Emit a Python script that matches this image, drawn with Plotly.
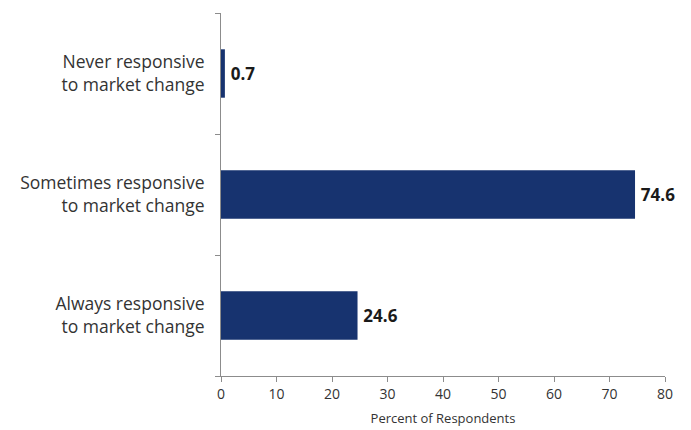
import plotly.graph_objects as go

# Share of respondents by responsiveness to market change
categories = [
    "Always responsive<br>to market change",
    "Sometimes responsive<br>to market change",
    "Never responsive<br>to market change",
]
percent = [24.6, 74.6, 0.7]
value_labels = ["24.6", "74.6", "0.7"]
x_ticks = [0, 10, 20, 30, 40, 50, 60, 70, 80]

bar_color = "#17336f"
axis_color = "#8c8c8c"
font_family = "'Open Sans', Lato, sans-serif"

fig = go.Figure(
    go.Bar(
        y=categories,
        x=percent,
        orientation="h",
        width=0.4,
        marker=dict(color=bar_color, line=dict(width=0)),
        text=value_labels,
        texttemplate="\u2009%{text}",
        textposition="outside",
        textfont=dict(family=font_family, size=17, color="#1a1a1a", weight="bold"),
        cliponaxis=False,
        hoverinfo="skip",
    )
)

fig.update_layout(
    width=691,
    height=430,
    margin=dict(l=221, r=26, t=13, b=54),
    paper_bgcolor="white",
    plot_bgcolor="white",
    showlegend=False,
    font=dict(family=font_family, color="#333333"),
)

fig.update_xaxes(
    range=[0, 80],
    tickvals=x_ticks,
    ticktext=[str(v) for v in x_ticks],
    showgrid=False,
    zeroline=False,
    showline=True,
    linecolor=axis_color,
    linewidth=1,
    ticks="outside",
    ticklen=5,
    tickcolor=axis_color,
    tickfont=dict(size=14, color="#333333"),
    title=dict(text="Percent of Respondents", font=dict(size=13, color="#333333"), standoff=12),
    automargin=False,
)

fig.update_yaxes(
    categoryorder="array",
    categoryarray=categories,
    showgrid=False,
    zeroline=False,
    showline=True,
    linecolor=axis_color,
    linewidth=1,
    ticks="outside",
    tickson="boundaries",
    ticklen=5,
    tickcolor=axis_color,
    tickfont=dict(size=17.5, color="#333333"),
    ticklabelstandoff=12,
    automargin=False,
)

fig.write_html("out.html")
